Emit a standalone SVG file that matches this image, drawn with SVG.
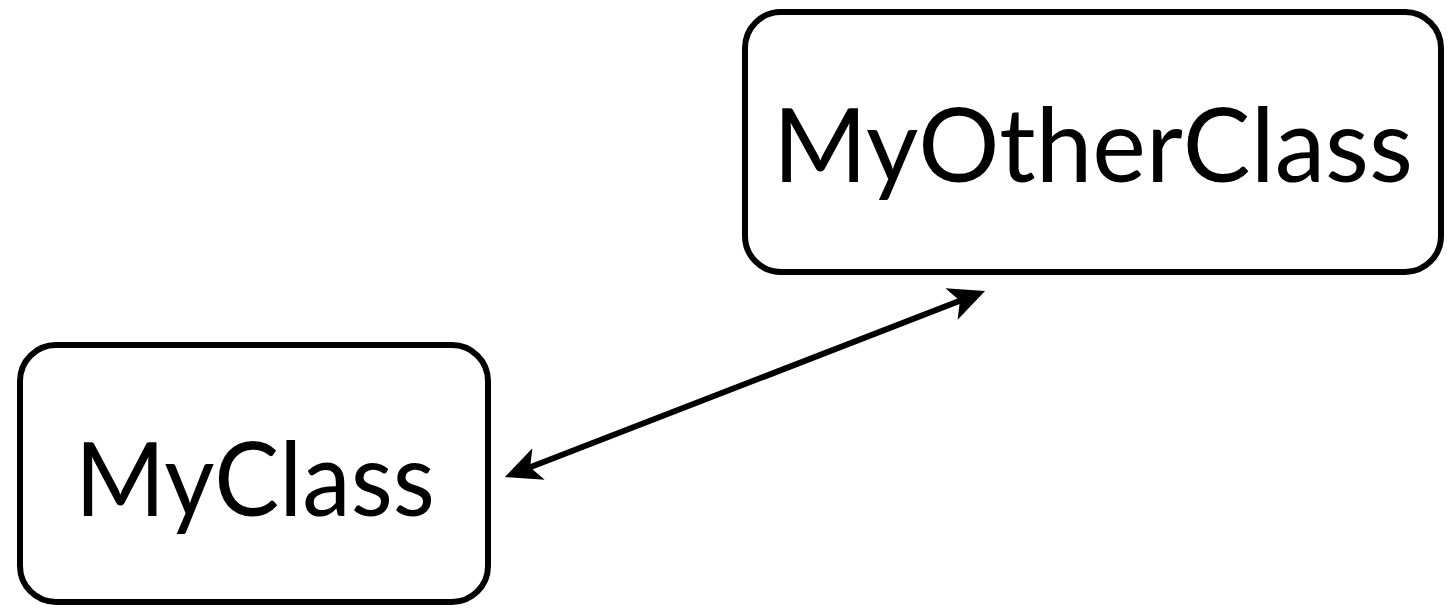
<svg xmlns="http://www.w3.org/2000/svg" width="1454" height="608" viewBox="0 0 1454 608">
  <style>
    .box { fill: #ffffff; stroke: #000000; stroke-width: 6; }
    .label { font-family: "Lato", "Open Sans", sans-serif; font-size: 102px; fill: #000000; text-anchor: middle; }
    .conn { stroke: #000000; stroke-width: 6; fill: none; }
  </style>
  <defs>
    <marker id="head" viewBox="0 -20 40 40" refX="16" refY="0" markerWidth="40" markerHeight="40" markerUnits="userSpaceOnUse" orient="auto-start-reverse">
      <path d="M36,0 L0,-17 L9,0 L0,17 Z" fill="#000000"/>
    </marker>
  </defs>
  <rect width="1454" height="608" fill="#ffffff"/>
  <g id="node-myclass">
    <rect class="box" x="20" y="345" width="468" height="257" rx="36" ry="36"/>
    <text class="label" x="255" y="516" textLength="360" lengthAdjust="spacingAndGlyphs">MyClass</text>
  </g>
  <g id="node-myotherclass">
    <rect class="box" x="745" y="12" width="696" height="260" rx="36" ry="36"/>
    <text class="label" x="1093" y="182" textLength="640" lengthAdjust="spacingAndGlyphs">MyOtherClass</text>
  </g>
  <g id="connectors">
    <line class="conn" x1="523.6" y1="469.8" x2="966.4" y2="298.2" marker-start="url(#head)" marker-end="url(#head)"/>
  </g>
</svg>
